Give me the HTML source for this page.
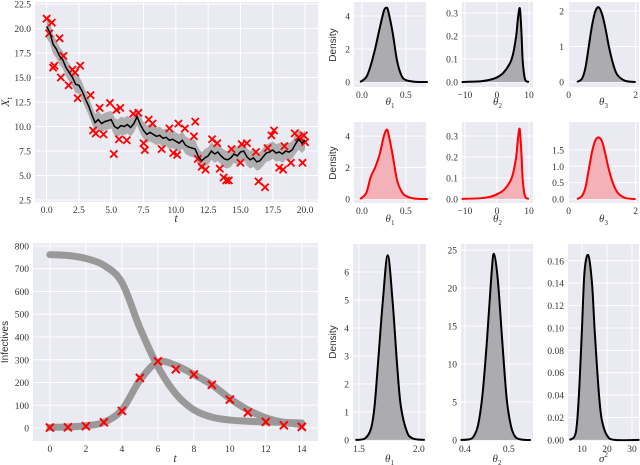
<!DOCTYPE html>
<html><head><meta charset="utf-8"><style>
html,body{margin:0;padding:0;background:#fff;}
svg{display:block;}
text{font-family:"Liberation Serif",serif;fill:#333;}
.sans{font-family:"Liberation Sans",sans-serif;}
</style></head><body>
<svg id="fig" width="640" height="465" xmlns="http://www.w3.org/2000/svg"></svg>
<script>
// ---- Top-left: SDE path ----
const pathT = [];
for (let i = 0; i <= 80; i++) pathT.push(i * 0.25);
const pathX = [20.2,19.6,18.4,17.9,17.2,16.8,16,15.5,15,14.3,14.2,13.6,12.8,12.1,11.2,10.4,10.7,10.3,10.5,10.6,10.7,10,9.8,10.1,10.0,10.2,9.9,10.3,11,10.2,9.6,9.2,9.4,9.2,9.0,9.1,8.8,8.9,8.6,8.7,8.5,8.3,8.6,8.1,7.9,7.8,7.7,6.9,6.5,6.8,7.0,7.5,7.2,7.4,7.0,6.7,6.6,6.8,7.2,7.0,7.4,7.5,6.9,6.6,6.8,6.4,6.5,6.9,7.3,7.4,7.6,7.3,7.4,7.2,7.5,7.4,7.6,8.2,8.7,8.3,8.6];
const bandHalf = [1.2,1.1,1.0,0.9,0.9,0.9,0.9,0.9,0.9,0.9,0.9,0.9,0.9,0.9,0.9,0.9,0.9,0.9,0.9,0.9,0.9,0.9,0.9,0.9,0.9,0.9,0.9,0.9,0.9,0.9,0.9,0.9,0.9,0.9,0.9,0.9,0.9,0.9,0.9,0.9,0.9,0.9,0.9,0.9,0.9,0.9,0.9,0.9,0.9,0.9,0.9,0.9,0.9,0.9,0.9,0.9,0.9,0.9,0.9,0.9,0.9,0.9,0.9,0.9,0.9,0.9,0.9,0.9,0.9,0.9,0.9,0.9,0.9,0.9,0.9,0.9,0.9,1.0,1.1,1.0,1.0];
const obsT = [0,0.4,0.2,0.5,0.6,1.0,1.3,1.1,1.7,2.0,2.2,2.6,2.4,3.4,3.6,3.8,4.1,4.4,4.9,5.2,5.4,5.7,5.6,6.2,6.7,7.1,7.5,7.6,7.9,8.2,8.9,9.5,9.8,10.2,10.1,10.7,11.4,11.5,11.7,12.0,12.3,12.8,13.2,13.4,13.7,13.9,14.1,14.3,15.0,15.1,15.5,16.2,16.4,16.9,17.1,17.4,17.6,18.0,18.3,18.4,18.9,19.2,19.5,19.8,19.9,20];
const obsX = [21,20.6,19.5,16,16.2,19,17.2,15,14.2,15.8,15.5,16.2,12.9,13.2,9.6,9.3,11.9,9.2,12.4,7.2,11.7,11.9,8.7,8.6,11.3,11.4,8.3,7.6,10.7,10.3,7.7,9.8,7.3,10.3,7.1,9.8,9,10.5,6.7,5.9,5.6,8.7,8.3,5.7,4.8,4.5,4.5,7.7,6.3,8.2,8.3,7.4,4.4,3.8,7.8,9.1,9.6,5.8,5.6,8,6.3,9.3,8.9,6.3,9.1,8.4];
const tlXTicks = [0,2.5,5,7.5,10,12.5,15,17.5,20];
const tlYTicks = [2.5,5,7.5,10,12.5,15,17.5,20,22.5];
// ---- Bottom-left: SIR ----
const sirT = [0,1,2,3,4,5,6,7,8,9,10,11,12,13,14];
const sirObs = [2,3,8,25,75,220,293,258,235,190,125,68,27,12,5];
const sirI = [3,5,10,25,80,210,290,275,235,190,130,80,45,25,15];
const sirS = [762,758,745,715,640,440,270,150,80,48,35,30,27,25,22];
const blXTicks = [0,2,4,6,8,10,12,14];
const blYTicks = [0,100,200,300,400,500,600,700,800];
// ---- Densities ----
const d1x = [-0.02,0.05,0.1,0.15,0.2,0.25,0.28,0.3,0.35,0.4,0.45,0.5,0.6,0.75];
const d1y = [0,0.3,1.0,2.0,3.2,4.3,4.5,4.3,3.0,1.3,0.4,0.12,0.02,0];
const d2x = [-11,-5,-2,0,2,4,5,6,6.5,7,7.3,7.7,8,8.5,9,10];
const d2y = [0,0.003,0.01,0.02,0.04,0.08,0.12,0.2,0.27,0.32,0.3,0.2,0.1,0.03,0.005,0];
const d3x = [0.25,0.4,0.5,0.6,0.7,0.8,0.9,1.0,1.1,1.2,1.3,1.4,1.5,1.7,2];
const d3y = [0,0.1,0.4,1.0,1.6,2.0,2.1,1.9,1.5,1.0,0.6,0.3,0.15,0.03,0];
const r1x = [-0.02,0.05,0.1,0.15,0.2,0.25,0.28,0.3,0.35,0.4,0.45,0.5,0.6,0.75];
const r1y = [0,0.4,1.4,2.0,2.8,4.0,4.4,4.2,2.8,1.2,0.5,0.2,0.03,0];
const r2x = [-11,-5,-2,0,2,4,5,6,6.5,7,7.3,7.7,8,8.5,9,10];
const r2y = [0,0.003,0.01,0.022,0.04,0.08,0.12,0.2,0.28,0.335,0.3,0.2,0.1,0.03,0.005,0];
const r3x = [0.25,0.4,0.5,0.6,0.7,0.8,0.9,1.0,1.1,1.2,1.3,1.4,1.5,1.7,2];
const r3y = [0,0.1,0.35,0.9,1.45,1.8,1.88,1.75,1.35,0.9,0.55,0.3,0.15,0.03,0];
const b1x = [1.47,1.55,1.6,1.63,1.66,1.7,1.74,1.78,1.82,1.85,1.9,1.95,2.05];
const b1y = [0,0.05,0.4,1.2,2.8,5.0,6.6,5.0,2.6,1.2,0.3,0.05,0];
const b2x = [0.39,0.41,0.42,0.43,0.44,0.45,0.46,0.466,0.475,0.485,0.495,0.505,0.515,0.53,0.55];
const b2y = [0,0.1,0.5,2,6,13,21.5,24.5,21,13,5.5,1.8,0.4,0.05,0];
const b3x = [5,7,8,9,10,11,12.5,14,15,16,17,18,20,23,33];
const b3y = [0,0.003,0.015,0.05,0.1,0.15,0.165,0.14,0.1,0.065,0.035,0.017,0.004,0,0];

const NS = "http://www.w3.org/2000/svg";
const fig = document.getElementById('fig');
function el(tag, attrs, parent) {
  const e = document.createElementNS(NS, tag);
  for (const k in attrs) e.setAttribute(k, attrs[k]);
  (parent || fig).appendChild(e);
  return e;
}
function axes(name, px0, px1, py0, py1, xmin, xmax, ymin, ymax, xt, yt, xfmt, yfmt) {
  const g = el('g', {});
  
  
  const bg = el('rect', {x: px0, y: py0, width: px1 - px0, height: py1 - py0, fill: '#eaeaf2'}, g);
  
  
  const sx = v => px0 + (v - xmin) / (xmax - xmin) * (px1 - px0);
  const sy = v => py1 - (v - ymin) / (ymax - ymin) * (py1 - py0);
  xt.forEach(v => {
    const gl = el('line', {x1: sx(v), x2: sx(v), y1: py0, y2: py1, stroke: '#fff', 'stroke-width': 1}, g);
    
    
    const t = el('text', {x: sx(v), y: py1 + 11, 'font-size': 9.5, 'text-anchor': 'middle'}, g);
    
    
    t.textContent = xfmt(v);
  });
  yt.forEach(v => {
    const gl = el('line', {x1: px0, x2: px1, y1: sy(v), y2: sy(v), stroke: '#fff', 'stroke-width': 1}, g);
    
    
    const t = el('text', {x: px0 - 4, y: sy(v) + 3.5, 'font-size': 9.5, 'text-anchor': 'end'}, g);
    
    
    t.textContent = yfmt(v);
  });
  return {g, sx, sy};
}
function smooth(pts) {
  let d = 'M' + pts[0][0] + ',' + pts[0][1];
  for (let i = 0; i < pts.length - 1; i++) {
    const p0 = pts[Math.max(0, i - 1)], p1 = pts[i], p2 = pts[i + 1], p3 = pts[Math.min(pts.length - 1, i + 2)];
    const c1x = p1[0] + (p2[0] - p0[0]) / 6, c1y = p1[1] + (p2[1] - p0[1]) / 6;
    const c2x = p2[0] - (p3[0] - p1[0]) / 6, c2y = p2[1] - (p3[1] - p1[1]) / 6;
    d += ' C' + c1x + ',' + c1y + ' ' + c2x + ',' + c2y + ' ' + p2[0] + ',' + p2[1];
  }
  return d;
}
function cross(g, x, y, s, w, name) {
  const p = el('path', {d: `M${x-s},${y-s}L${x+s},${y+s}M${x-s},${y+s}L${x+s},${y-s}`, stroke: '#ff0000', 'stroke-width': w, fill: 'none'}, g);
  
  
}
function label(txt, x, y, rot, cls, size, italic, name) {
  const t = el('text', {x, y, 'font-size': size, 'text-anchor': 'middle'});
  if (rot) t.setAttribute('transform', `rotate(-90 ${x} ${y})`);
  if (cls) t.setAttribute('class', cls);
  if (italic) t.setAttribute('font-style', 'italic');
  
  
  t.innerHTML = txt;
  return t;
}
const f1 = v => v.toFixed(1);
const f0 = v => String(v);
const f2 = v => v.toFixed(2);

// Top-left
const A = axes('sde-path-chart', 35, 318, 2, 202, -0.9, 21.0, 2.3, 22.7, tlXTicks, tlYTicks, f1, f1);
{
  const up = pathT.map((t, i) => [A.sx(t), A.sy(pathX[i] + bandHalf[i])]);
  const lo = pathT.map((t, i) => [A.sx(t), A.sy(pathX[i] - bandHalf[i])]).reverse();
  const band = el('path', {d: 'M' + up.concat(lo).map(p => p.join(',')).join('L') + 'Z', fill: '#999999', opacity: 0.75}, A.g);
  
  
  obsT.forEach((t, i) => cross(A.g, A.sx(t), A.sy(obsX[i]), 3.6, 1.8, 'observation-marker'));
  const ln = el('polyline', {points: pathT.map((t, i) => A.sx(t) + ',' + A.sy(pathX[i])).join(' '), fill: 'none', stroke: '#000', 'stroke-width': 1.5}, A.g);
  
  
}
label('<tspan font-style="italic">X</tspan><tspan font-size="8" dy="3" font-style="italic">t</tspan>', 9, 102, true, null, 12, false, 'y-axis-title');
label('t', 176, 222, false, null, 12, true, 'x-axis-title');

// Bottom-left
const B = axes('sir-chart', 33, 318, 243, 441, -0.94, 14.9, -57, 813, blXTicks, blYTicks, f0, f0);
{
  const s = el('path', {d: smooth(sirT.map((t, i) => [B.sx(t), B.sy(sirS[i])])), fill: 'none', stroke: '#999', 'stroke-width': 7, 'stroke-linecap': 'round'}, B.g);
  
  
  const i2 = el('path', {d: smooth(sirT.map((t, i) => [B.sx(t), B.sy(sirI[i])])), fill: 'none', stroke: '#999', 'stroke-width': 7, 'stroke-linecap': 'round'}, B.g);
  
  
  sirT.forEach((t, i) => cross(B.g, B.sx(t), B.sy(sirObs[i]), 4, 2, 'infectives-observation'));
}
label('Infectives', 8, 342, true, 'sans', 10, false, 'y-axis-title-infectives');
label('t', 175, 462, false, null, 12, true, 'x-axis-title-sir');

// Density panels
function dens(name, px0, px1, py0, py1, xmin, xmax, ymin, ymax, xt, yt, xf, yf, xs, ys, color, fill, xl, xly) {
  const P = axes(name, px0, px1, py0, py1, xmin, xmax, ymin, ymax, xt, yt, xf, yf);
  const pts = xs.map((x, i) => [P.sx(x), P.sy(ys[i])]);
  const d = smooth(pts);
  const fa = el('path', {d: d + ` L${pts[0][0]},${P.sy(0)} Z`, fill: fill}, P.g);
  
  
  const ln = el('path', {d, fill: 'none', stroke: color, 'stroke-width': 2}, P.g);
  
  
  label(xl, (px0 + px1) / 2, xly, false, null, 11, false, 'x-axis-title');
}
const th = n => `<tspan font-style="italic">θ</tspan><tspan font-size="7" dy="3">${n}</tspan>`;
const gF = '#ababb0', rF = '#f2b2b8';
dens('theta1-density-top', 354, 426, 2, 87, -0.09, 0.73, -0.3, 4.85, [0, 0.5], [0, 2, 4], f1, f0, d1x, d1y, '#000', gF, th(1), 105);
dens('theta2-density-top', 462, 533, 2, 87, -10.9, 11.25, -0.022, 0.348, [-10, 0, 10], [0, 0.1, 0.2, 0.3], v => v < 0 ? '−' + (-v) : String(v), f1, d2x, d2y, '#000', gF, th(2), 105);
dens('theta3-density-top', 568, 639, 2, 87, -0.02, 2.1, -0.14, 2.25, [0, 2], [0, 1, 2], f0, f0, d3x, d3y, '#000', gF, th(3), 105);
dens('theta1-density-red', 354, 426, 122, 203, -0.09, 0.73, -0.25, 4.9, [0, 0.5], [0, 2, 4], f1, f0, r1x, r1y, '#ff0000', rF, th(1), 222);
dens('theta2-density-red', 462, 533, 122, 203, -10.9, 11.25, -0.02, 0.367, [-10, 0, 10], [0, 0.1, 0.2, 0.3], v => v < 0 ? '−' + (-v) : String(v), f1, r2x, r2y, '#ff0000', rF, th(2), 222);
dens('theta3-density-red', 568, 639, 122, 203, -0.02, 2.1, -0.12, 2.35, [0, 2], [0, 0.5, 1, 1.5], f0, f1, r3x, r3y, '#ff0000', rF, th(3), 222);
dens('theta1-density-sir', 353, 426, 244, 441, 1.45, 2.06, -0.04, 7.0, [1.5, 2.0], [0, 1, 2, 3, 4, 5, 6], f1, f0, b1x, b1y, '#000', gF, th(1), 462);
dens('theta2-density-sir', 461, 533, 244, 441, 0.391, 0.555, -0.13, 25.8, [0.4, 0.5], [0, 5, 10, 15, 20, 25], f1, f0, b2x, b2y, '#000', gF, th(2), 462);
dens('sigma2-density-sir', 568, 639, 244, 441, 4.4, 32.8, -0.001, 0.175, [10, 20, 30], [0, 0.02, 0.04, 0.06, 0.08, 0.1, 0.12, 0.14, 0.16], f0, f2, b3x, b3y, '#000', gF, '<tspan font-style="italic">σ</tspan><tspan font-size="7" dy="-5">2</tspan>', 462);
label('Density', 336, 45, true, 'sans', 10, false, 'density-label-row1');
label('Density', 336, 163, true, 'sans', 10, false, 'density-label-row2');
label('Density', 336, 342, true, 'sans', 10, false, 'density-label-row3');
</script>
</body></html>
